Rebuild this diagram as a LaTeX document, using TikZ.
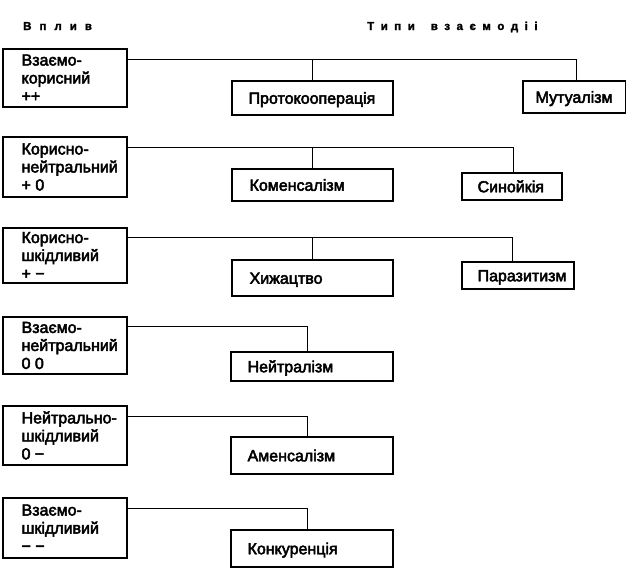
\documentclass[tikz,border=0pt]{standalone}
\usepackage{fontspec}
\setmainfont{Liberation Sans}
\newfontfamily\mfont[FakeBold=3]{Liberation Sans}
\newfontfamily\hfont[FakeBold=2]{Liberation Sans Bold}
\newcommand\hg{\hspace{6.5pt}}
\newcommand\hgA{\hspace{8pt}}
\newcommand\wg{\hspace{16pt}}
\begin{document}
\begin{tikzpicture}[x=1pt,y=-1pt,
  frame/.style={draw, line width=1.2pt, inner sep=0pt},
  lbox/.style={frame, minimum width=124pt},
  lab/.style={anchor=west, inner sep=0pt, align=left, font=\mfont\fontsize{16}{18}\selectfont},
  rlab/.style={lab, text height=11.5pt, text depth=0pt},
  conn/.style={line width=1pt},
  head/.style={anchor=base west, inner sep=0pt, font=\hfont\fontsize{11.5}{13}\selectfont}]
\useasboundingbox (0,0) rectangle (627,568);

% headers
\node[head] (hA) at (23,30) {В\hgA п\hgA л\hgA и\hgA в};
\node[head] (hB) at (367,30) {Т\hg и\hg п\hg и\wg в\hg з\hg а\hg є\hg м\hg о\hg д\hg і\hg і};

% row 1
\node[lbox, minimum height=58pt] (l1) at (65,78) {};
\node[lab] (l1t) at ([xshift=19pt]l1.west) {Взаємо-\\корисний\\++};
\node[frame, minimum width=161pt, minimum height=34pt] (p) at (312.5,98) {};
\node[rlab] (pt) at ([xshift=17pt]p.west) {Протокооперація};
\node[frame, minimum width=102.5pt, minimum height=32pt] (m) at (574.25,97) {};
\node[rlab] (mt) at ([xshift=13pt]m.west) {Мутуалізм};
\coordinate (r1) at ([yshift=-11pt]l1.north east);
\draw[conn] (r1) -| ([xshift=1.75pt]m.north);
\draw[conn] (p.north) -- (p.north |- r1);

% row 2
\node[lbox, minimum height=60pt] (l2) at (65,167) {};
\node[lab] (l2t) at ([xshift=19pt]l2.west) {Корисно-\\нейтральний\\+ 0};
\node[frame, minimum width=161pt, minimum height=32pt] (k) at (312.5,185) {};
\node[rlab] (kt) at ([xshift=18pt]k.west) {Коменсалізм};
\node[frame, minimum width=100pt, minimum height=27pt] (s) at (512,186.5) {};
\node[rlab] (st) at ([xshift=16pt]s.west) {Синойкія};
\coordinate (r2) at ([yshift=-11pt]l2.north east);
\draw[conn] (r2) -| ([xshift=1pt]s.north);
\draw[conn] (k.north) -- (k.north |- r2);

% row 3
\node[lbox, minimum height=55pt] (l3) at (65,255.5) {};
\node[lab] (l3t) at ([xshift=19pt]l3.west) {Корисно-\\шкідливий\\+ −};
\node[frame, minimum width=161pt, minimum height=36pt] (h) at (312.5,278) {};
\node[rlab] (ht) at ([xshift=18pt]h.west) {Хижацтво};
\node[frame, minimum width=112pt, minimum height=27pt] (pz) at (518,275.5) {};
\node[rlab] (pzt) at ([xshift=16pt]pz.west) {Паразитизм};
\coordinate (r3) at ([yshift=-10.5pt]l3.north east);
\draw[conn] (r3) -| ([xshift=-6pt]pz.north);
\draw[conn] (h.north) -- (h.north |- r3);

% row 4
\node[lbox, minimum height=57pt] (l4) at (65,345.5) {};
\node[lab] (l4t) at ([xshift=19pt]l4.west) {Взаємо-\\нейтральний\\0 0};
\node[frame, minimum width=162pt, minimum height=29pt] (n) at (312,366.5) {};
\node[rlab] (nt) at ([xshift=17pt]n.west) {Нейтралізм};
\coordinate (r4) at ([yshift=-10pt]l4.north east);
\draw[conn] (r4) -| ([xshift=-5pt]n.north);

% row 5
\node[lbox, minimum height=59pt] (l5) at (65,435.5) {};
\node[lab] (l5t) at ([xshift=19pt]l5.west) {Нейтрально-\\шкідливий\\0 −};
\node[frame, minimum width=162pt, minimum height=37pt] (a) at (312,455.5) {};
\node[rlab] (at) at ([xshift=17pt]a.west) {Аменсалізм};
\coordinate (r5) at ([yshift=-11pt]l5.north east);
\draw[conn] (r5) -| ([xshift=-5pt]a.north);

% row 6
\node[lbox, minimum height=60pt] (l6) at (65,528) {};
\node[lab] (l6t) at ([xshift=19pt]l6.west) {Взаємо-\\шкідливий\\− −};
\node[frame, minimum width=162pt, minimum height=37pt] (kn) at (312,548.5) {};
\node[rlab] (knt) at ([xshift=17pt]kn.west) {Конкуренція};
\coordinate (r6) at ([yshift=-11pt]l6.north east);
\draw[conn] (r6) -| ([xshift=-5pt]kn.north);
\end{tikzpicture}
\end{document}
